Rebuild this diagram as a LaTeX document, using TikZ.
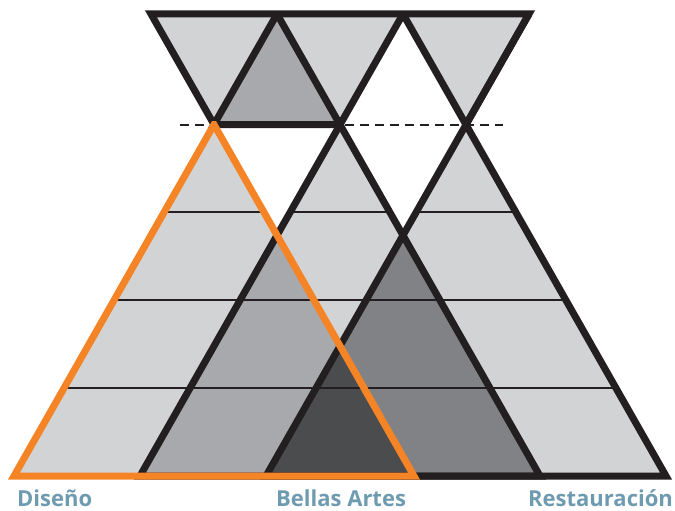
\documentclass[tikz,border=0pt]{standalone}
\usepackage{fontspec}
\setmainfont{Open Sans}
\definecolor{inkblack}{HTML}{231F20}
\definecolor{lightgrey}{HTML}{D1D3D4}
\definecolor{midgrey}{HTML}{A7A9AC}
\definecolor{darkgrey}{HTML}{808285}
\definecolor{deepgrey}{HTML}{4B4C4E}
\definecolor{signorange}{HTML}{F58426}
\definecolor{labelblue}{HTML}{6E9BB0}

\begin{document}
\begin{tikzpicture}[
    x=1pt, y=-1pt,
    edge/.style={draw=inkblack, line width=7pt, line join=miter},
    orangeedge/.style={draw=signorange, line width=7pt, line join=miter},
    level/.style={draw=inkblack, line width=2pt},
    cut/.style={draw=inkblack, line width=2pt, dash pattern=on 9pt off 6pt},
    label/.style={font=\fontsize{22}{24}\selectfont\bfseries, text=labelblue,
                  anchor=base west, inner sep=0pt}
]
\useasboundingbox (0,0) rectangle (675,511);

% Vertices
\coordinate (t0) at (151,14);
\coordinate (t1) at (277,14);
\coordinate (t2) at (403,14);
\coordinate (t3) at (529,14);
\coordinate (a1) at (214,124.5);
\coordinate (a2) at (340,124.5);
\coordinate (a3) at (466,124.5);
\coordinate (b1l) at (14,476);
\coordinate (b1r) at (414,476);
\coordinate (b2l) at (140,476);
\coordinate (b2r) at (540,476);
\coordinate (b3l) at (266,476);
\coordinate (b3r) at (666,476);
\coordinate (cutl) at (180,124.5);
\coordinate (cutr) at (503,124.5);

% Top band
\fill[lightgrey] (t0) -- (t1) -- (a1) -- cycle;
\fill[lightgrey] (t1) -- (t2) -- (a2) -- cycle;
\fill[lightgrey] (t2) -- (t3) -- (a3) -- cycle;
\fill[midgrey] (t1) -- (a1) -- (a2) -- cycle;

% Pyramids and overlaps
\fill[lightgrey] (a1) -- (b1l) -- (b1r) -- cycle
                 (a2) -- (b2l) -- (b2r) -- cycle
                 (a3) -- (b3l) -- (b3r) -- cycle;
\begin{scope}
  \clip (a1) -- (b1l) -- (b1r) -- cycle;
  \fill[midgrey] (a2) -- (b2l) -- (b2r) -- cycle;
\end{scope}
\begin{scope}
  \clip (a2) -- (b2l) -- (b2r) -- cycle;
  \fill[darkgrey] (a3) -- (b3l) -- (b3r) -- cycle;
\end{scope}
\begin{scope}
  \clip (a1) -- (b1l) -- (b1r) -- cycle;
  \clip (a2) -- (b2l) -- (b2r) -- cycle;
  \fill[deepgrey] (a3) -- (b3l) -- (b3r) -- cycle;
\end{scope}

% Levels
\begin{scope}
  \clip (a1) -- (b1l) -- (b1r) -- cycle
        (a2) -- (b2l) -- (b2r) -- cycle
        (a3) -- (b3l) -- (b3r) -- cycle;
  \foreach \y in {212.4, 300.3, 388.1}
    \draw[level] (0,\y) -- (675,\y);
\end{scope}

% Cut line
\draw[cut] (cutl) -- (cutr);

% Outlines
\draw[edge] (a1) -- (t0) -- (t3) -- (a3);
\draw[edge] (t1) -- (a1) -- (a2);
\draw[edge] (t2) -- (b2l) -- (b2r) -- (t1);
\draw[edge] (t3) -- (b3l) -- (b3r) -- (t2);
\begin{scope}
  \clip (0,121) rectangle (675,511);
  \draw[orangeedge] (a1) -- (b1l) -- (b1r) -- cycle;
\end{scope}

% Labels
\node[label] (diseno) at (17,506) {Diseño};
\node[label] (bellas) at (276,506) {Bellas Artes};
\node[label] (restau) at (528,506) {Restauración};

\end{tikzpicture}
\end{document}
